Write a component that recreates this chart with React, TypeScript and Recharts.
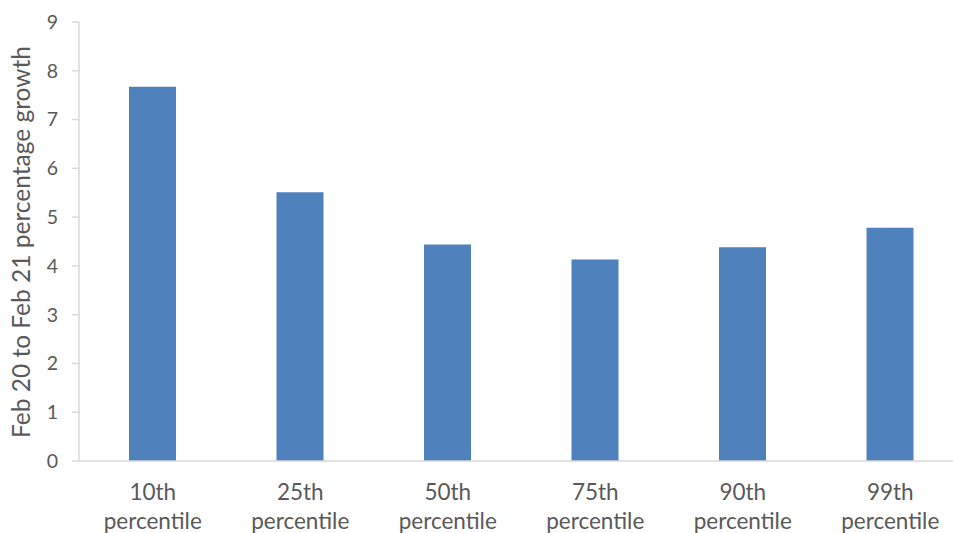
import { BarChart, Bar, XAxis, YAxis, Label } from "recharts";

const categories = ["10th", "25th", "50th", "75th", "90th", "99th"];
const growth = [7.67, 5.51, 4.44, 4.13, 4.38, 4.78];
const yTicks = [0, 1, 2, 3, 4, 5, 6, 7, 8, 9];

const data = categories.map((c, i) => ({ name: c, value: growth[i] }));

const FONT = "Lato, 'Open Sans', sans-serif";
const TEXT = "#595959";

// two-line category label: "10th" / "percentile"
const CategoryTick = (props: any) => {
  const { x, y, payload } = props;
  return (
    <text x={x} y={y} textAnchor="middle" fill={TEXT} fontFamily={FONT} fontSize={22.5}>
      <tspan x={x} dy={31}>{payload.value}</tspan>
      <tspan x={x} dy={29}>percentile</tspan>
    </text>
  );
};

export default function App() {
  return (
    <div style={{ position: "absolute", left: 0, top: 0, width: 953, height: 533, overflow: "hidden", background: "#fff" }}>
      <BarChart
        width={980}
        height={533}
        data={data}
        margin={{ top: 22, right: 16, bottom: 0, left: 0 }}
        barSize={47}
      >
        <XAxis
          dataKey="name"
          height={72}
          axisLine={{ stroke: "#D9D9D9", strokeWidth: 1.5 }}
          tickLine={false}
          interval={0}
          tick={<CategoryTick />}
        />
        <YAxis
          width={79}
          domain={[0, 9]}
          ticks={yTicks}
          interval={0}
          axisLine={{ stroke: "#D9D9D9", strokeWidth: 1.5 }}
          tickLine={{ stroke: "#D9D9D9", strokeWidth: 1.5 }}
          tickSize={7}
          tickMargin={14}
          tick={{ fill: TEXT, fontFamily: FONT, fontSize: 19.5 }}
        >
          <Label
            content={() => (
              <text
                transform="translate(30,242) rotate(-90)"
                textAnchor="middle"
                fill={TEXT}
                fontFamily={FONT}
                fontSize={24.5}
              >
                Feb 20 to Feb 21 percentage growth
              </text>
            )}
          />
        </YAxis>
        <Bar dataKey="value" fill="#4F81BD" isAnimationActive={false} />
      </BarChart>
    </div>
  );
}
